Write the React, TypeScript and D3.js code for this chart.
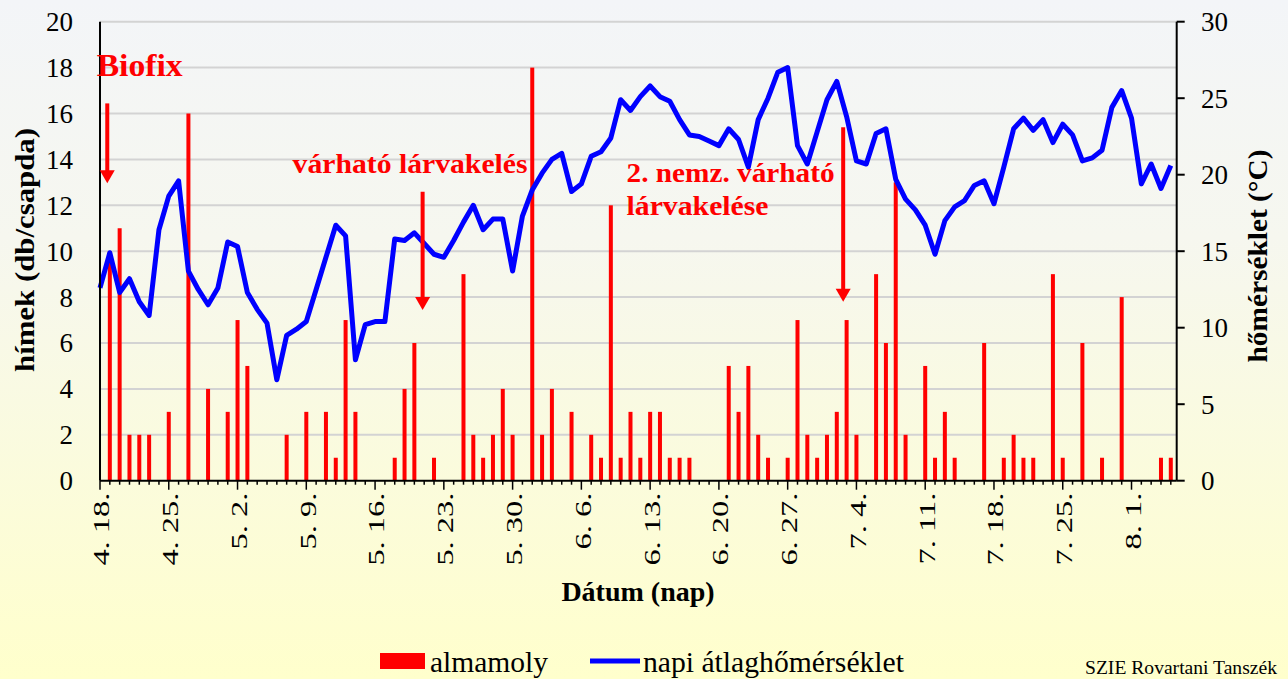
import React from 'react';
import * as d3 from 'd3';

// weekly date labels on the x axis (day 0 = 4. 18.)
const tickLabels = ['4. 18.', '4. 25.', '5. 2.', '5. 9.', '5. 16.', '5. 23.', '5. 30.', '6. 6.',
  '6. 13.', '6. 20.', '6. 27.', '7. 4.', '7. 11.', '7. 18.', '7. 25.', '8. 1.'];

// almamoly catches per day (hímek / csapda)
const moths = [
  0, 10, 11, 2, 2, 2, 0, 3, 0, 16,
  0, 4, 0, 3, 7, 5, 0, 0, 0, 2,
  0, 3, 0, 3, 1, 7, 3, 0, 0, 0,
  1, 4, 6, 0, 1, 0, 0, 9, 2, 1,
  2, 4, 2, 0, 18, 2, 4, 0, 3, 0,
  2, 1, 12, 1, 3, 1, 3, 3, 1, 1,
  1, 0, 0, 0, 5, 3, 5, 2, 1, 0,
  1, 7, 2, 1, 2, 3, 7, 2, 0, 9,
  6, 13, 2, 0, 5, 1, 3, 1, 0, 0,
  6, 0, 1, 2, 1, 1, 0, 9, 1, 0,
  6, 0, 1, 0, 8, 0, 0, 0, 1, 1,
];

// napi átlaghőmérséklet (°C)
const temps = [
  12.6, 14.9, 12.3, 13.2, 11.7, 10.8, 16.4, 18.6, 19.6, 13.7,
  12.5, 11.5, 12.6, 15.6, 15.3, 12.3, 11.2, 10.3, 6.6, 9.5,
  9.9, 10.4, 12.5, 14.6, 16.7, 16.0, 7.9, 10.2, 10.4, 10.4,
  15.8, 15.7, 16.2, 15.5, 14.8, 14.6, 15.7, 16.9, 18.0, 16.4,
  17.1, 17.1, 13.7, 17.3, 19.0, 20.1, 21.0, 21.4, 18.9, 19.4,
  21.2, 21.5, 22.4, 24.9, 24.2, 25.1, 25.8, 25.1, 24.8, 23.6,
  22.6, 22.5, 22.2, 21.9, 23.0, 22.3, 20.5, 23.6, 25.0, 26.7,
  27.0, 21.9, 20.7, 22.8, 24.9, 26.1, 23.8, 20.9, 20.7, 22.7,
  23.0, 19.7, 18.4, 17.7, 16.7, 14.8, 17.0, 17.9, 18.3, 19.3,
  19.6, 18.1, 20.5, 23.0, 23.7, 22.9, 23.6, 22.1, 23.3, 22.6,
  20.9, 21.1, 21.6, 24.4, 25.5, 23.7, 19.4, 20.7, 19.1, 20.6,
];

const leftTicks = [0, 2, 4, 6, 8, 10, 12, 14, 16, 18, 20];
const rightTicks = [0, 5, 10, 15, 20, 25, 30];

// annotations in data units (day, left-axis value)
const notes = [
  { lines: ['Biofix'], day: -0.34, value: 17.63, size: 32, len: [86] },
  { lines: ['várható lárvakelés'], day: 19.6, value: 13.41, size: 27, len: [235] },
  { lines: ['2. nemz. várható', 'lárvakelése'], day: 53.6, value: 13.03, size: 27, len: [208, 142] },
];
const arrows = [
  { day: 0.74, from: 16.44, to: 12.96 },
  { day: 32.84, from: 12.59, to: 7.44 },
  { day: 75.65, from: 15.4, to: 7.8 },
];

const FONT = "'Liberation Serif', 'Times New Roman', serif";

export default function App() {
  const W = 1288;
  const H = 679;
  const x = d3.scaleLinear().domain([0, 109.6]).range([100, 1176.7]);
  const yL = d3.scaleLinear().domain([0, 20]).range([480.7, 21.7]);
  const yR = d3.scaleLinear().domain([0, 30]).range([480.7, 21.7]);
  const [x0, x1] = x.range();
  const y0 = yL(0);

  const line = d3.line<number>().x((_, i) => x(i)).y((d) => yR(d));
  const days = d3.range(0, 110);

  return (
    <div style={{ position: 'absolute', left: 0, top: 0 }}>
      <svg width={W} height={H} style={{ display: 'block' }} fontFamily={FONT}>
        <defs>
          <linearGradient id="bg" x1="0" y1="0" x2="0" y2="1">
            <stop offset="0" stopColor="#f3f5f8" />
            <stop offset="0.35" stopColor="#f6f7ef" />
            <stop offset="1" stopColor="#ffffcc" />
          </linearGradient>
        </defs>
        <rect width={W} height={H} fill="url(#bg)" />

        {/* gridlines */}
        {leftTicks.slice(1).map((t) => (
          <line key={t} x1={x0} x2={x1} y1={yL(t)} y2={yL(t)} stroke="#d3d3d3" strokeWidth={2} />
        ))}

        {/* bars */}
        {moths.map((v, i) =>
          v > 0 ? (
            <rect key={i} x={x(i) - 2} width={4} y={yL(v)} height={y0 - yL(v)} fill="#ff0000" />
          ) : null
        )}

        {/* temperature line */}
        <path d={line(temps) || ''} fill="none" stroke="#0000ff" strokeWidth={5} strokeLinejoin="round" />

        {/* axes */}
        <line x1={x0} x2={x0} y1={yL(20)} y2={y0} stroke="#000" strokeWidth={2} />
        <line x1={x1} x2={x1} y1={yR(30)} y2={y0} stroke="#000" strokeWidth={2} />
        <line x1={x0} x2={x1} y1={y0} y2={y0} stroke="#000" strokeWidth={2} />

        {leftTicks.map((t) => (
          <text key={t} x={73} y={yL(t)} dy="0.35em" textAnchor="end" fontSize={27} fill="#000">
            {t}
          </text>
        ))}
        {rightTicks.map((t) => (
          <g key={t}>
            <line x1={x1} x2={x1 + 8} y1={yR(t)} y2={yR(t)} stroke="#000" strokeWidth={2} />
            <text x={1201} y={yR(t)} dy="0.35em" fontSize={27} fill="#000">
              {t}
            </text>
          </g>
        ))}

        {days.map((d) => (
          <line key={d} x1={x(d)} x2={x(d)} y1={y0} y2={y0 + (d % 7 === 0 ? 9 : 4)} stroke="#000" strokeWidth={1.5} />
        ))}
        {tickLabels.map((lab, i) => (
          <text
            key={lab}
            transform={`translate(${x(i * 7) + 1},${y0 + 12}) rotate(-90) scale(1.35,1)`}
            textAnchor="end"
            dy="0.35em"
            fontSize={24}
            fill="#000"
          >
            {lab}
          </text>
        ))}

        {/* axis titles */}
        <text
          transform={`translate(25,250) rotate(-90)`}
          textAnchor="middle"
          dy="0.35em"
          fontSize={27}
          fontWeight="bold"
          textLength={244}
          lengthAdjust="spacingAndGlyphs"
        >
          hímek (db/csapda)
        </text>
        <text
          transform={`translate(1258,256) rotate(-90)`}
          textAnchor="middle"
          dy="0.35em"
          fontSize={27}
          fontWeight="bold"
          textLength={213}
          lengthAdjust="spacingAndGlyphs"
        >
          hőmérséklet (°C)
        </text>
        <text x={638} y={601} textAnchor="middle" fontSize={28} fontWeight="bold">
          Dátum (nap)
        </text>

        {/* annotations */}
        {notes.map((n, k) =>
          n.lines.map((s, j) => (
            <text
              key={`${k}-${j}`}
              x={x(n.day)}
              y={yL(n.value) + j * 33.3}
              fontSize={n.size}
              fontWeight="bold"
              fill="#ff0000"
              textLength={n.len[j]}
              lengthAdjust="spacingAndGlyphs"
            >
              {s}
            </text>
          ))
        )}
        {arrows.map((a, k) => {
          const ax = x(a.day);
          const top = yL(a.from);
          const tip = yL(a.to);
          return (
            <g key={k} fill="#ff0000">
              <rect x={ax - 2} y={top} width={4} height={tip - top - 12} />
              <path d={`M${ax - 7.5},${tip - 13} L${ax + 7.5},${tip - 13} L${ax},${tip} Z`} />
            </g>
          );
        })}

        {/* legend */}
        <rect x={380} y={653} width={45} height={16} fill="#ff0000" />
        <text x={430} y={672} fontSize={29} textLength={118} lengthAdjust="spacingAndGlyphs">
          almamoly
        </text>
        <line x1={590} x2={640} y1={661} y2={661} stroke="#0000ff" strokeWidth={5} />
        <text x={643} y={672} fontSize={29} textLength={261} lengthAdjust="spacingAndGlyphs">
          napi átlaghőmérséklet
        </text>
        <text x={1085} y={674} fontSize={19} textLength={192} lengthAdjust="spacingAndGlyphs">
          SZIE Rovartani Tanszék
        </text>
      </svg>
    </div>
  );
}
